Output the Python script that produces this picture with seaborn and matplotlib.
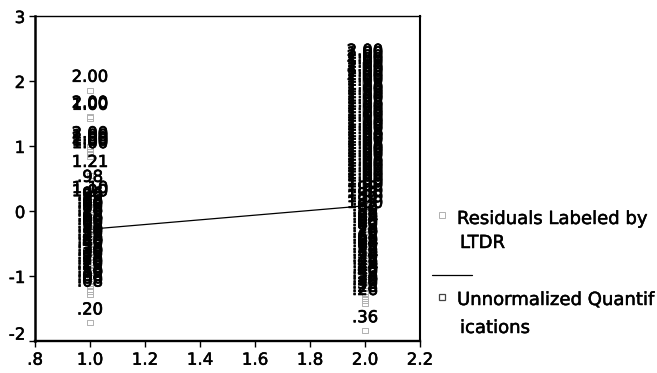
import matplotlib
matplotlib.use("Agg")
import matplotlib.pyplot as plt
import matplotlib.patheffects as pe
import matplotlib.transforms as mtransforms
from matplotlib.lines import Line2D
import seaborn as sns
import pandas as pd

# Category quantifications on the x axis
groups = [1.0, 2.0]

# Residuals for LTDR category 1, with the LTDR value printed at each point
g1_resid = [1.86, 1.46, 1.43, 0.99, 0.95, 0.91, 0.88, 0.84, 0.55, 0.32,
            0.15, 0.10, 0.06, 0.03, -0.02, -0.06, -0.09, -0.14, -0.18, -0.21,
            -0.27, -0.30, -0.34, -0.39, -0.43, -0.46, -0.51, -0.55, -0.58, -0.63,
            -0.67, -0.70, -0.75, -0.79, -0.82, -0.87, -0.91, -0.95, -1.00, -1.03,
            -1.08, -1.12, -1.15, -1.20, -1.24, -1.29, -1.72]
g1_label = ["2.00", "2.00", "1.00", "2.00", "1.00", "2.00", "1.00", "1.00", "1.21", ".98",
            "1.10", "1.00", ".96", ".90", ".88", ".86", ".80", ".80", ".78", ".70",
            ".68", ".66", ".60", ".60", ".58", ".56", ".50", ".50", ".48", ".46",
            ".40", ".40", ".38", ".36", ".30", ".30", ".28", ".26", ".20", ".20",
            ".18", ".16", ".10", ".08", ".06", ".08", ".20"]

# Residuals for LTDR category 2
g2_resid = [2.26, 2.22, 2.17, 2.13, 2.08, 2.02, 1.98, 1.94, 1.89, 1.85,
            1.80, 1.74, 1.70, 1.66, 1.61, 1.56, 1.52, 1.47, 1.43, 1.38,
            1.33, 1.29, 1.25, 1.19, 1.15, 1.11, 1.06, 1.01, 0.97, 0.92,
            0.88, 0.83, 0.78, 0.74, 0.70, 0.65, 0.60, 0.56, 0.51, 0.47,
            0.42, 0.37, 0.33, 0.28, 0.24, 0.19, 0.15, 0.10, 0.05, 0.01,
            -0.04, -0.08, -0.13, -0.18, -0.22, -0.27, -0.31, -0.36, -0.41, -0.45,
            -0.50, -0.54, -0.59, -0.63, -0.68, -0.73, -0.77, -0.82, -0.86, -0.91,
            -0.95, -1.00, -1.05, -1.09, -1.14, -1.18, -1.23, -1.27, -1.32, -1.37,
            -1.42, -1.84]
g2_label = ["2.00", "1.00", "2.00", "1.00", "1.00", "2.00", "1.50", "1.00", "2.00", "1.00",
            "1.00", "1.25", "1.00", "1.00", "1.50", "1.00", "1.00", "1.33", "1.00", "1.00",
            "1.20", "1.00", "1.00", "1.10", "1.00", "1.00", "1.00", "1.08", "1.00", "1.00",
            "1.00", "1.05", "1.00", "1.00", "1.00", "1.00", "1.03", "1.00", "1.00", "1.00",
            "1.00", "1.00", "1.00", "1.00", "1.00", "1.00", ".98", "1.00", ".96", "1.00",
            ".94", "1.00", ".92", ".90", ".88", ".86", ".84", ".80", ".80", ".78",
            ".76", ".70", ".68", ".66", ".64", ".60", ".58", ".56", ".54", ".50",
            ".48", ".46", ".44", ".40", ".40", ".38", ".36", ".30", ".30", ".28",
            ".26", ".36"]

# Unnormalized quantifications per category
quant_x = [1.0, 2.0]
quant_y = [-0.28, 0.08]

x_ticks = [0.8, 1.0, 1.2, 1.4, 1.6, 1.8, 2.0, 2.2]
x_tick_labels = [".8", "1.0", "1.2", "1.4", "1.6", "1.8", "2.0", "2.2"]
y_ticks = [-2, -1, 0, 1, 2, 3]
y_tick_labels = ["-2", "-1", "0", "1", "2", "3"]

df = pd.DataFrame({
    "x": [groups[0]] * len(g1_resid) + [groups[1]] * len(g2_resid),
    "resid": g1_resid + g2_resid,
    "label": g1_label + g2_label,
})

sns.set_theme(style="ticks")
plt.rcParams["font.family"] = ["DejaVu Sans"]
plt.rcParams["text.color"] = "black"
plt.rcParams["xtick.color"] = "black"
plt.rcParams["ytick.color"] = "black"

heavy = [pe.withStroke(linewidth=0.5, foreground="black")]
medium = [pe.withStroke(linewidth=0.35, foreground="black")]

fig = plt.figure(figsize=(6.57, 3.73), dpi=100)
ax = fig.add_axes([35 / 657, 1 - 341 / 373, 385 / 657, 325 / 373])

# quantification line underneath everything
sns.lineplot(x=quant_x, y=quant_y, ax=ax, color="black", lw=0.9,
             marker="s", markersize=4, markerfacecolor="none",
             markeredgecolor="#555555", markeredgewidth=0.8, zorder=1)

# residual points
sns.scatterplot(data=df, x="x", y="resid", ax=ax, marker="s", s=14,
                color="#b0b0b0", linewidth=0.7, zorder=2, legend=False)
ax.collections[-1].set_facecolor("none")
ax.collections[-1].set_edgecolor("#b0b0b0")

# LTDR value printed above each residual
for xv, yv, lab in zip(df["x"], df["resid"], df["label"]):
    ax.annotate(lab, (xv, yv), xytext=(0, 6), textcoords="offset points",
                ha="center", va="baseline", fontsize=11.8, color="black",
                zorder=3, path_effects=heavy)

ax.set_xlim(0.8, 2.2)
ax.set_ylim(-2, 3)
ax.set_xticks(x_ticks)
ax.set_xticklabels(x_tick_labels)
ax.set_yticks(y_ticks)
ax.set_yticklabels(y_tick_labels)
ax.set_xlabel("")
ax.set_ylabel("")
ax.tick_params(direction="out", length=4, width=1, labelsize=12,
               colors="black", pad=3)
for t in ax.get_xticklabels() + ax.get_yticklabels():
    t.set_path_effects(medium)

# lift the lowest y label clear of the x axis
lift = mtransforms.ScaledTranslation(0, 6 / 72, fig.dpi_scale_trans)
low = ax.get_yticklabels()[0]
low.set_transform(low.get_transform() + lift)

for side, lw in [("left", 1.8), ("bottom", 1.7), ("top", 1.0), ("right", 1.5)]:
    ax.spines[side].set_visible(True)
    ax.spines[side].set_color("black")
    ax.spines[side].set_linewidth(lw)

# legend block to the right of the plot
fs = 13
fig.add_artist(Line2D([442 / 657], [1 - 215 / 373], ls="none", marker="s",
                      markersize=4, markerfacecolor="none",
                      markeredgecolor="#b0b0b0", markeredgewidth=0.7))
fig.text(457 / 657, 1 - 219 / 373, "Residuals Labeled by", fontsize=fs,
         va="center", ha="left", path_effects=medium)
fig.text(460 / 657, 1 - 243 / 373, "LTDR", fontsize=fs, va="center",
         ha="left", path_effects=medium)
fig.add_artist(Line2D([432 / 657, 472 / 657], [1 - 275 / 373] * 2,
                      color="black", lw=0.9))
fig.add_artist(Line2D([442 / 657], [1 - 297 / 373], ls="none", marker="s",
                      markersize=4, markerfacecolor="none",
                      markeredgecolor="#444444", markeredgewidth=0.9))
fig.text(457 / 657, 1 - 300 / 373, "Unnormalized Quantif", fontsize=fs,
         va="center", ha="left", path_effects=medium)
fig.text(460 / 657, 1 - 328 / 373, "ications", fontsize=fs, va="center",
         ha="left", path_effects=medium)

fig.savefig("out.png", dpi=100, facecolor="white")
